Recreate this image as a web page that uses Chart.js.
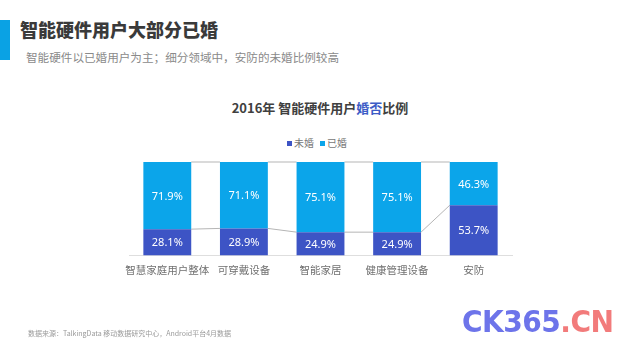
<!DOCTYPE html>
<html>
<head>
<meta charset="utf-8">
<script src="https://cdn.jsdelivr.net/npm/chart.js@4/dist/chart.umd.min.js"></script>
<style>
  html, body { margin: 0; padding: 0; background: #fff; }
  #wrap { position: relative; width: 640px; height: 360px; overflow: hidden; font-family: "Noto Sans CJK SC", "Noto Sans", sans-serif; }
  #bar { position: absolute; left: 0; top: 20px; width: 10px; height: 40px; background: #0aa2e4; }
  #h1 { position: absolute; left: 20px; top: 16px; font-size: 18px; font-weight: 900; color: #3a3a3a; line-height: 26px; white-space: nowrap; }
  #h2 { position: absolute; left: 26px; top: 48px; font-size: 11.6px; color: #8a8a8a; line-height: 18px; white-space: nowrap; }
  #ct { position: absolute; left: 0; width: 640px; top: 98px; text-align: center; font-size: 13px; font-weight: bold; color: #404040; line-height: 20px; }
  #ct span { color: #3d5cc6; }
  #lg { position: absolute; left: 0; width: 640px; top: 136px; text-align: center; font-size: 10px; color: #777; line-height: 14px; }
  #lg i { display: inline-block; width: 5px; height: 5px; margin: 0 2px 1px 0; vertical-align: middle; }
  #lg b { font-weight: normal; margin-right: 6px; }
  #ft { position: absolute; left: 28px; top: 327px; font-size: 7px; color: #9a9a9a; line-height: 12px; white-space: nowrap; }
  #wm { position: absolute; left: 462px; top: 304px; font-family: "DejaVu Sans Condensed", "DejaVu Sans", sans-serif; font-weight: bold; font-size: 30px; line-height: 36px; letter-spacing: -0.5px; white-space: nowrap; transform: scaleX(1.04); transform-origin: left center; }
  #wm .a { color: #6d74ea; }
  #wm .b { color: #f27b7b; }
  canvas { position: absolute; left: 0; top: 0; }
</style>
</head>
<body>
<div id="wrap">
  <div id="bar"></div>
  <div id="h1">智能硬件用户大部分已婚</div>
  <div id="h2">智能硬件以已婚用户为主；细分领域中，安防的未婚比例较高</div>
  <div id="ct">2016年 智能硬件用户<span>婚否</span>比例</div>
  <div id="lg"><i style="background:#3d54c5"></i><b>未婚</b><i style="background:#0ba5ea"></i><b>已婚</b></div>
  <canvas id="c" width="640" height="360"></canvas>
  <div id="ft">数据来源：TalkingData 移动数据研究中心，Android平台4月数据</div>
  <div id="wm"><span class="a">CK365</span><span class="b">.CN</span></div>
</div>
<script>
const categories = ["智慧家庭用户整体", "可穿戴设备", "智能家居", "健康管理设备", "安防"];
const unmarried = [28.1, 28.9, 24.9, 24.9, 53.7];
const married = [71.9, 71.1, 75.1, 75.1, 46.3];
const seriesNames = ["未婚", "已婚"];

const labelPlugin = {
  id: 'segLabels',
  afterDatasetsDraw(chart) {
    const ctx = chart.ctx;
    ctx.save();
    ctx.fillStyle = '#ffffff';
    ctx.font = '11px "Noto Sans", "DejaVu Sans", sans-serif';
    ctx.textAlign = 'center';
    ctx.textBaseline = 'middle';
    chart.data.datasets.forEach((ds, di) => {
      const meta = chart.getDatasetMeta(di);
      meta.data.forEach((el, i) => {
        const top = Math.min(el.y, el.base), bot = Math.max(el.y, el.base);
        ctx.fillText(ds.data[i].toFixed(1) + '%', el.x, (top + bot) / 2 + 1);
      });
    });
    ctx.restore();
  }
};

const seriesLinePlugin = {
  id: 'seriesLines',
  beforeDatasetsDraw(chart) {
    const ctx = chart.ctx;
    ctx.save();
    ctx.strokeStyle = '#b5b5b5';
    ctx.lineWidth = 1;
    chart.data.datasets.forEach((ds, di) => {
      const meta = chart.getDatasetMeta(di);
      for (let i = 0; i < meta.data.length - 1; i++) {
        const a = meta.data[i], b = meta.data[i + 1];
        ctx.beginPath();
        ctx.moveTo(a.x + a.width / 2, a.y);
        ctx.lineTo(b.x - b.width / 2, b.y);
        ctx.stroke();
      }
    });
    ctx.restore();
  }
};

new Chart(document.getElementById('c'), {
  type: 'bar',
  data: {
    labels: categories,
    datasets: [
      { label: seriesNames[0], data: unmarried, backgroundColor: '#3d54c5', categoryPercentage: 1, barPercentage: 0.625 },
      { label: seriesNames[1], data: married, backgroundColor: '#0ba5ea', categoryPercentage: 1, barPercentage: 0.625 }
    ]
  },
  options: {
    responsive: false,
    animation: false,
    layout: { padding: { left: 129, right: 128, top: 162, bottom: 76 } },
    plugins: { legend: { display: false }, title: { display: false }, tooltip: { enabled: false } },
    scales: {
      x: {
        stacked: true,
        grid: { display: false, drawTicks: false },
        border: { display: true, color: '#dedede' },
        ticks: { color: '#707070', font: { size: 10.5, family: '"Noto Sans CJK SC", sans-serif' }, padding: 8, maxRotation: 0, autoSkip: false }
      },
      y: { stacked: true, display: false, min: 0, max: 100 }
    }
  },
  plugins: [seriesLinePlugin, labelPlugin]
});
</script>
</body>
</html>
